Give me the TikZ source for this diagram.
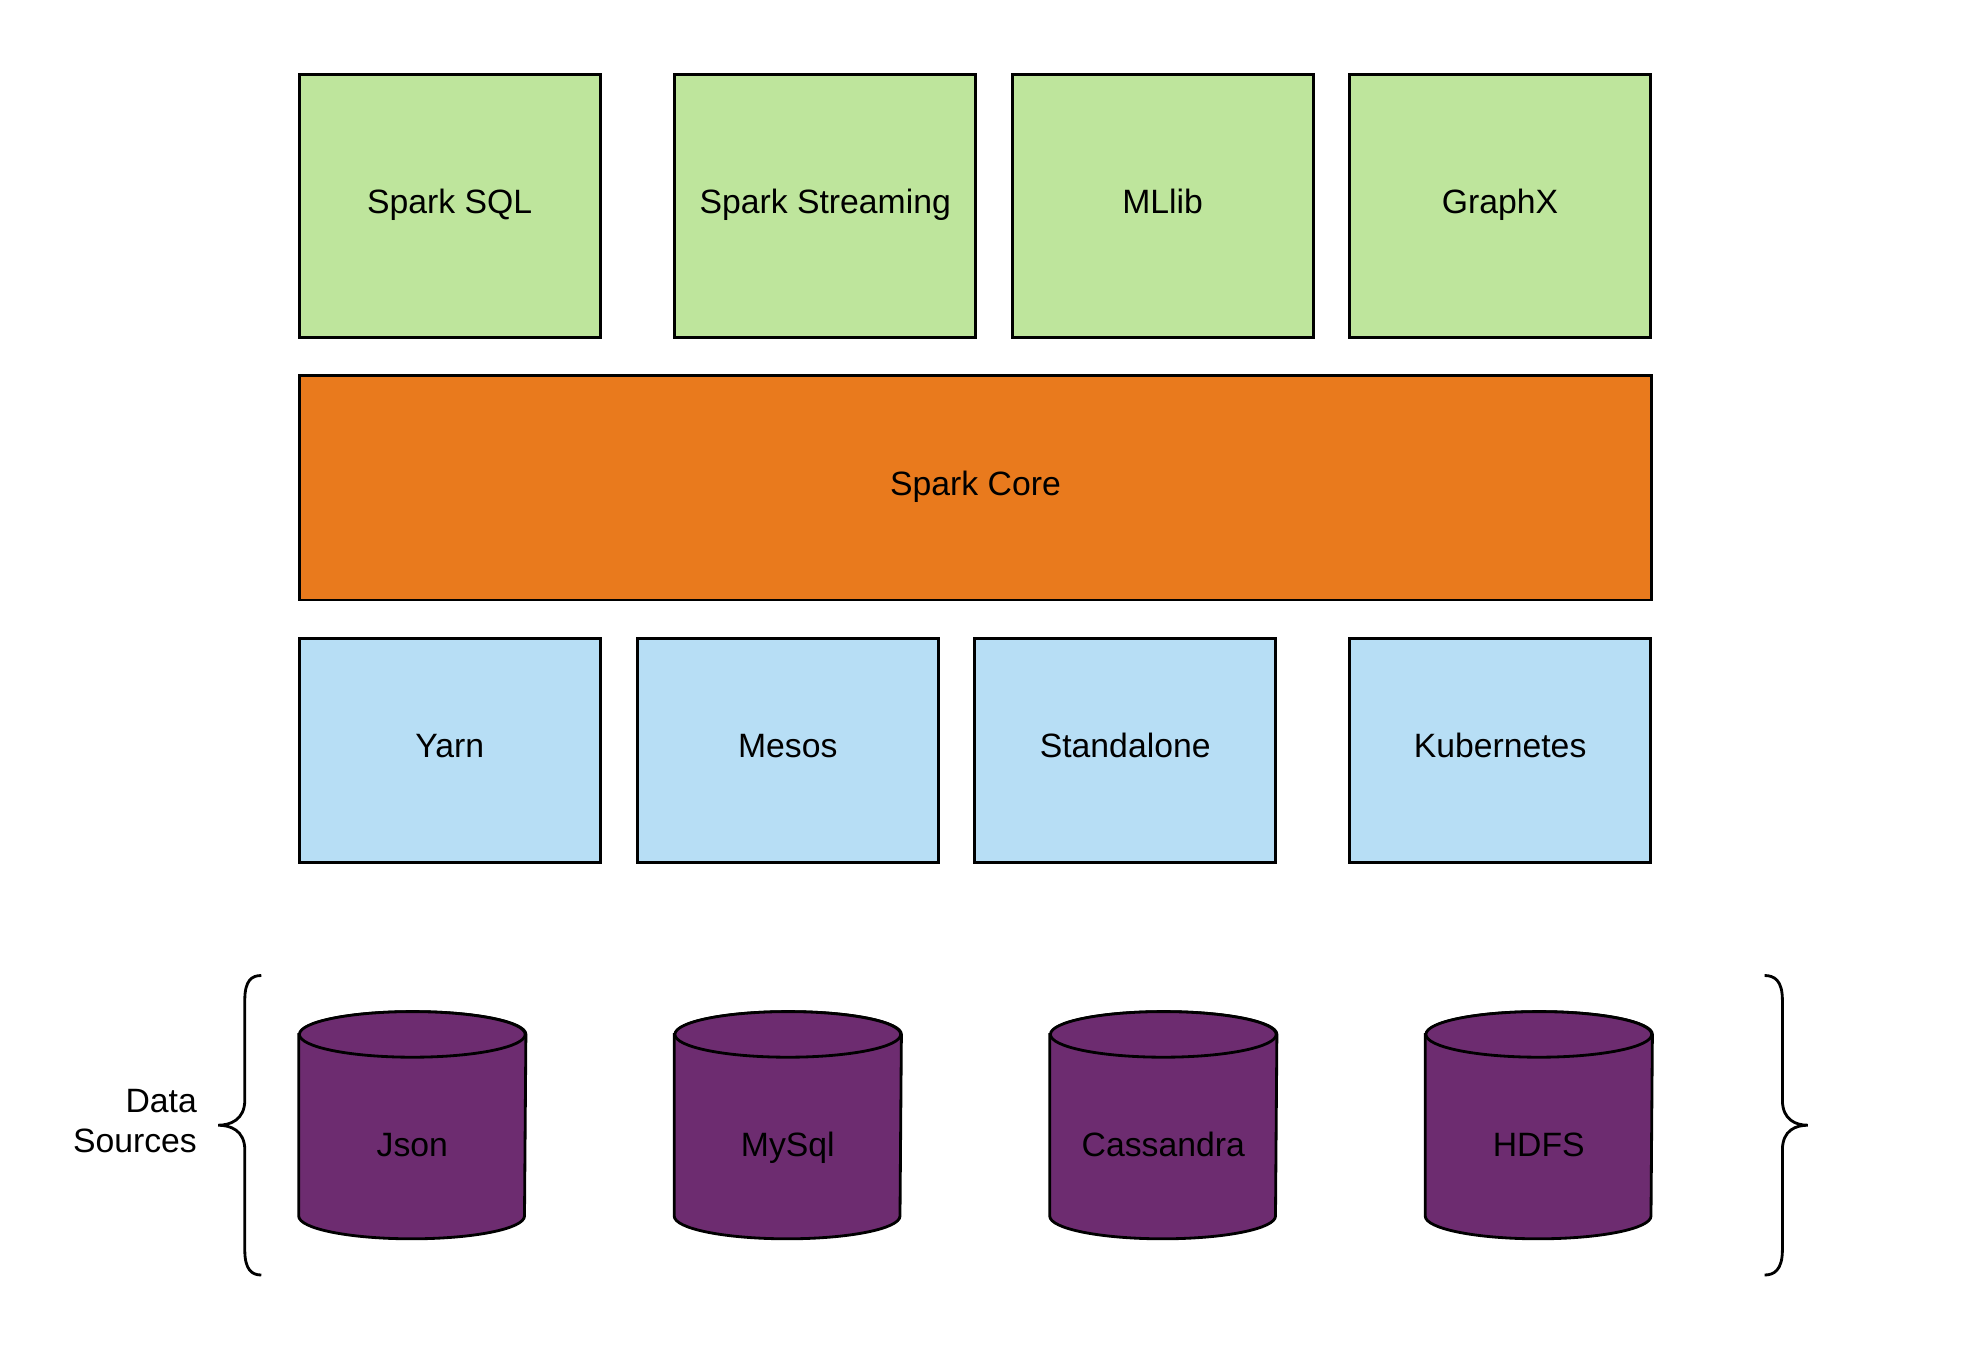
\documentclass[tikz,border=0pt]{standalone}
\usepackage{fontspec}
\setmainfont{Liberation Sans}
\usetikzlibrary{backgrounds}
\definecolor{libgreen}{RGB}{190,229,156}
\definecolor{coreorange}{RGB}{233,122,29}
\definecolor{mgrblue}{RGB}{183,222,245}
\definecolor{dbpurple}{RGB}{109,44,112}
\tikzset{
  layer/.style={draw, line width=0.8pt, fill=#1, inner sep=0pt,
    text height=0.25cm, text depth=0.1cm, font=\fontsize{9.6}{11.5}\selectfont},
  libbox/.style={layer=libgreen, minimum width=3.01cm, minimum height=2.626cm},
  mgrbox/.style={layer=mgrblue, minimum width=3.01cm, minimum height=2.245cm},
  dbstore/.style={inner sep=0pt, minimum width=2.258cm, minimum height=2.258cm,
    text height=0.7cm, text depth=0.08cm, font=\fontsize{9.6}{11.5}\selectfont},
  dbline/.style={draw, line width=0.8pt, fill=dbpurple},
  curly/.style={line width=0.8pt}
}
\begin{document}
\begin{tikzpicture}
\useasboundingbox (0,0) rectangle (19.88,-13.5);

\node[libbox] (sql) at (4.497,-2.061) {Spark SQL};
\node[libbox] (streaming) at (8.252,-2.061) {Spark Streaming};
\node[libbox] (mllib) at (11.626,-2.061) {MLlib};
\node[libbox] (graphx) at (15.001,-2.061) {GraphX};

\node[layer=coreorange, minimum width=13.523cm, minimum height=2.245cm] (core) at (9.755,-4.878) {Spark Core};

\node[mgrbox] (yarn) at (4.497,-7.504) {Yarn};
\node[mgrbox] (mesos) at (7.878,-7.504) {Mesos};
\node[mgrbox] (standalone) at (11.252,-7.504) {Standalone};
\node[mgrbox] (kubernetes) at (15.001,-7.504) {Kubernetes};

\node[dbstore] (json) at (4.123,-11.252) {Json};
\node[dbstore] (mysql) at (7.878,-11.252) {MySql};
\node[dbstore] (cassandra) at (11.633,-11.252) {Cassandra};
\node[dbstore] (hdfs) at (15.388,-11.252) {HDFS};

\begin{scope}[on background layer]
\foreach \db in {json,mysql,cassandra,hdfs}{
  \path[dbline] ([yshift=-0.228cm]\db.north west) -- ([yshift=0.228cm]\db.south west)
    arc[start angle=180, end angle=360, x radius=1.129cm, y radius=0.228cm]
    -- ([yshift=-0.228cm]\db.north east)
    arc[start angle=0, end angle=180, x radius=1.129cm, y radius=0.228cm] -- cycle;
  \path[dbline] ([yshift=-0.228cm]\db.north) ellipse[x radius=1.129cm, y radius=0.228cm];
}
\end{scope}

\node[align=right, anchor=east, inner sep=0pt, font=\fontsize{9.6}{11.6}\selectfont] (sources) at (1.975,-11.21) {Data\\Sources};

\draw[curly] (2.613,-9.755) .. controls (2.52,-9.755) and (2.448,-9.8) .. (2.448,-10.0) -- (2.448,-11.0)
  .. controls (2.448,-11.2) and (2.3,-11.252) .. (2.182,-11.252)
  .. controls (2.3,-11.252) and (2.448,-11.3) .. (2.448,-11.5) -- (2.448,-12.5)
  .. controls (2.448,-12.7) and (2.52,-12.75) .. (2.613,-12.75);
\draw[curly] (17.646,-9.755) .. controls (17.74,-9.755) and (17.824,-9.8) .. (17.824,-10.0) -- (17.824,-11.0)
  .. controls (17.824,-11.2) and (17.96,-11.252) .. (18.078,-11.252)
  .. controls (17.96,-11.252) and (17.824,-11.3) .. (17.824,-11.5) -- (17.824,-12.5)
  .. controls (17.824,-12.7) and (17.74,-12.75) .. (17.646,-12.75);
\end{tikzpicture}
\end{document}
